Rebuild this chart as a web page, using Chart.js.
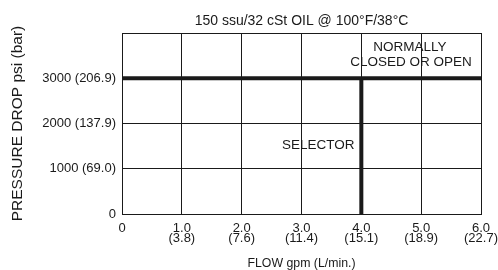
<!DOCTYPE html>
<html>
<head>
<meta charset="utf-8">
<script src="https://cdn.jsdelivr.net/npm/chart.js@4"></script>
<style>
  html, body { margin: 0; padding: 0; background: #fff; }
  #wrap { width: 498px; height: 270px; }
</style>
</head>
<body>
<div id="wrap"><canvas id="chart" width="498" height="270"></canvas></div>
<script>
// axis ticks
const flowGpm = ['0', '1.0', '2.0', '3.0', '4.0', '5.0', '6.0'];
const flowLpm = ['', '(3.8)', '(7.6)', '(11.4)', '(15.1)', '(18.9)', '(22.7)'];
const pressurePsi = [0, 1000, 2000, 3000, 4000];
const pressureLabels = ['0', '1000 (69.0)', '2000 (137.9)', '3000 (206.9)', ''];

// selector limits
const limitFlow = 4.0;
const limitPressure = 3000;
const maxFlow = 6;
const maxPressure = 4000;

const chartTitle = '150 ssu/32 cSt OIL @ 100°F/38°C';

// text in the plot
const notes = [
    { text: 'NORMALLY', x: 4.81, y: 3690 },
    { text: 'CLOSED OR OPEN', x: 4.83, y: 3360 },
    { text: 'SELECTOR', x: 3.28, y: 1510 }
];

const FONT = "'Liberation Sans', Arial, Helvetica, sans-serif";
const INK = '#1a1a1a';

// title centred over the plot area, plus the notes inside it
const notesPlugin = {
    id: 'notes',
    afterDatasetsDraw(chart) {
        const {ctx, chartArea, scales: {x, y}} = chart;
        ctx.save();
        ctx.fillStyle = INK;
        ctx.textAlign = 'center';
        ctx.textBaseline = 'middle';
        ctx.font = '14px ' + FONT;
        ctx.fillText(chartTitle, (chartArea.left + chartArea.right) / 2, 21);
        ctx.font = '13.5px ' + FONT;
        notes.forEach(n => ctx.fillText(n.text, x.getPixelForValue(n.x), y.getPixelForValue(n.y)));
        ctx.restore();
    }
};

new Chart(document.getElementById('chart'), {
    type: 'line',
    data: {
        datasets: [{
            data: [{x: 0, y: limitPressure}, {x: maxFlow, y: limitPressure}],
            borderColor: INK,
            borderWidth: 4,
            pointRadius: 0
        }, {
            data: [{x: limitFlow, y: limitPressure}, {x: limitFlow, y: 0}],
            borderColor: INK,
            borderWidth: 4,
            pointRadius: 0
        }]
    },
    options: {
        responsive: false,
        animation: false,
        layout: { padding: { top: 33, right: 17, bottom: 0, left: 0 } },
        plugins: {
            legend: { display: false },
            tooltip: { enabled: false },
            title: { display: false }
        },
        scales: {
            x: {
                type: 'linear',
                min: 0,
                max: maxFlow,
                afterBuildTicks: s => { s.ticks = flowGpm.map((_, i) => ({value: i})); },
                afterFit: s => { s.height = 56; s.paddingLeft = 0; s.paddingRight = 0; },
                border: { color: INK, width: 1 },
                grid: { color: INK, lineWidth: 1, drawTicks: false },
                ticks: {
                    color: INK,
                    padding: 9,
                    maxRotation: 0,
                    autoSkip: false,
                    font: { family: FONT, size: 13, lineHeight: 0.8 },
                    callback: (v, i) => flowLpm[i] ? [flowGpm[i], flowLpm[i]] : flowGpm[i]
                },
                title: {
                    display: true,
                    text: 'FLOW gpm (L/min.)',
                    color: INK,
                    font: { family: FONT, size: 12.3, lineHeight: 1 },
                    padding: { top: 0, bottom: 0 }
                }
            },
            y: {
                type: 'linear',
                min: 0,
                max: maxPressure,
                afterBuildTicks: s => { s.ticks = pressurePsi.map(v => ({value: v})); },
                afterFit: s => { s.width = 122; s.paddingTop = 0; s.paddingBottom = 0; },
                border: { color: INK, width: 1 },
                grid: { color: INK, lineWidth: 1, drawTicks: false },
                ticks: {
                    color: INK,
                    padding: 6,
                    font: { family: FONT, size: 13 },
                    callback: (v, i) => pressureLabels[i]
                },
                title: {
                    display: true,
                    text: 'PRESSURE DROP psi (bar)',
                    color: INK,
                    font: { family: FONT, size: 15.5, lineHeight: 1 },
                    padding: { top: 10, bottom: 0 }
                }
            }
        }
    },
    plugins: [notesPlugin]
});
</script>
</body>
</html>
